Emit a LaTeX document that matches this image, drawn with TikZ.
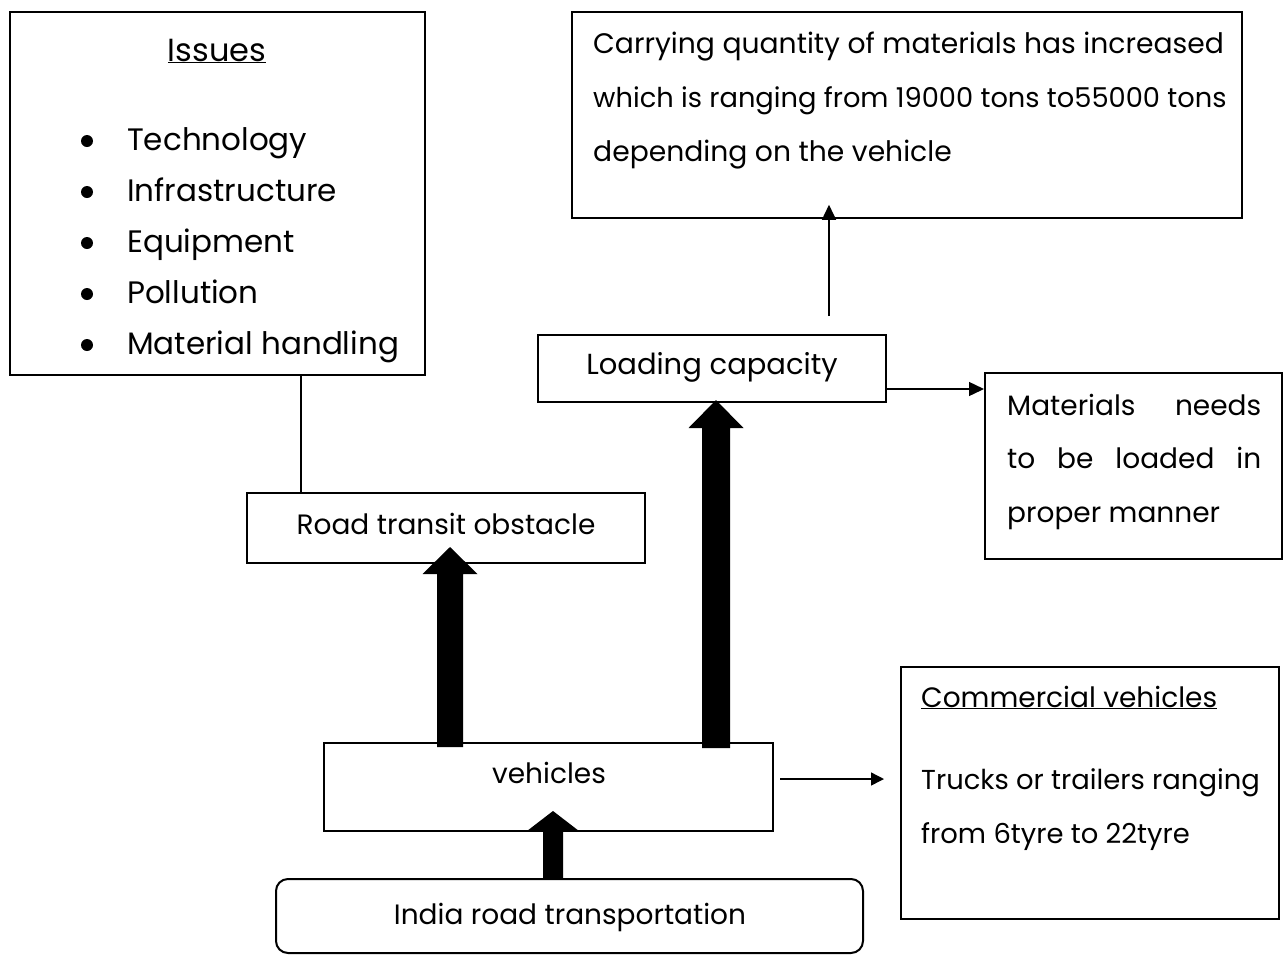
\documentclass[tikz,border=0pt]{standalone}
\usepackage{fontspec}
\setmainfont{Poppins}
\usetikzlibrary{arrows.meta,calc}
\begin{document}
\begin{tikzpicture}[x=1pt,y=-1pt,
  box/.style={draw, line width=2pt, inner sep=0pt, anchor=center},
  txt/.style={inner sep=0pt, anchor=base west, font=\fontsize{28}{32}\selectfont},
  ctxt/.style={inner sep=0pt, anchor=base, font=\fontsize{28}{32}\selectfont},
  thinarrow/.style={line width=1.4pt, -{Triangle[length=15pt,width=14pt]}},
  fat/.style={fill=black}
]
\useasboundingbox (0,0) rectangle (1283,954);

% boxes
\node[box, line width=2.4pt, minimum width=415pt, minimum height=363pt] (issues) at (217.5,193.5) {};
\node[box, line width=1.5pt, minimum width=670pt, minimum height=206pt] (carry) at (907,115) {};
\node[box, minimum width=348pt, minimum height=67pt] (loading) at (712,368.5) {};
\node[box, minimum width=297pt, minimum height=186pt] (mat) at (1133.5,466) {};
\node[box, minimum width=398pt, minimum height=70pt] (road) at (446,528) {};
\node[box, minimum width=449pt, minimum height=88pt] (vehicles) at (548.5,787) {};
\node[box, minimum width=378pt, minimum height=252pt] (comm) at (1090,793) {};
\node[box, rounded corners=12pt, minimum width=587pt, minimum height=74pt] (india) at (569.5,916) {};

% texts
\node[ctxt, font=\fontsize{32}{38}\selectfont] (tIssues) at (217,61) {\underline{Issues}};
\foreach \t [count=\i] in {Technology,Infrastructure,Equipment,Pollution,Material handling}{
  \node[txt, font=\fontsize{31}{36}\selectfont] (tI\i) at (127,150+51*\i-51) {\t};
  \fill (87,141+51*\i-51) circle (6pt);
}
\node[txt, font=\fontsize{28.2}{32}\selectfont] (tC1) at (593,53) {Carrying quantity of materials has increased};
\node[txt, font=\fontsize{27.3}{32}\selectfont] (tC2) at (593,107) {which is ranging from 19000 tons to55000 tons};
\node[txt, font=\fontsize{28.2}{32}\selectfont] (tC3) at (593,161) {depending on the vehicle};
\node[ctxt, font=\fontsize{29}{32}\selectfont] (tLoad) at (712,374) {Loading capacity};
\node[txt] (tM1) at (1007,415) {\makebox[254pt][s]{Materials\hfill needs}};
\node[txt] (tM2) at (1007,468) {\makebox[254pt][s]{to\hfill be\hfill loaded\hfill in}};
\node[txt] (tM3) at (1007,522) {proper manner};
\node[ctxt] (tRoad) at (446,534) {Road transit obstacle};
\node[ctxt] (tVeh) at (549,783) {vehicles};
\node[ctxt] (tIndia) at (570,924) {India road transportation};
\node[txt] (tCo1) at (921,707) {\underline{Commercial vehicles}};
\node[txt, font=\fontsize{27.4}{32}\selectfont] (tCo2) at (921,789) {Trucks or trailers ranging};
\node[txt, font=\fontsize{27.4}{32}\selectfont] (tCo3) at (921,843) {from 6tyre to 22tyre};

% plain connector issues -> road
\draw[line width=1.4pt] (301,0 |- issues.south) -- (301,0 |- road.north);

% thin arrows
\coordinate (la) at (829,0 |- loading.north);
\coordinate (lb) at (829,0 |- carry.south);
\draw[thinarrow] ([yshift=18pt]la) -- ([yshift=14pt]lb);
\coordinate (ma) at (loading.east |- 0,389);
\coordinate (mb) at (mat.west |- 0,389);
\draw[thinarrow] ([xshift=-2pt]ma) -- (mb);
\coordinate (va) at (vehicles.east |- 0,779);
\coordinate (vb) at (comm.west |- 0,779);
\draw[thinarrow, -{Triangle[length=13pt,width=13pt]}] ([xshift=6pt]va) -- ([xshift=-16pt]vb);

% fat arrows
\coordinate (f1s) at (553,0 |- india.north);
\coordinate (f1e) at (553,0 |- vehicles.south);
\fill ([xshift=-10pt]f1s) -- ([xshift=-10pt,yshift=1pt]f1e) -- ([xshift=-26pt,yshift=1pt]f1e)
  -- ([yshift=21pt]f1e) -- ([xshift=26pt,yshift=1pt]f1e) -- ([xshift=10pt,yshift=1pt]f1e)
  -- ([xshift=10pt]f1s) -- cycle;
\coordinate (f2s) at (450,0 |- vehicles.north);
\coordinate (f2e) at (450,0 |- road.south);
\fill ([xshift=-13pt,yshift=-5pt]f2s) -- ([xshift=-13pt,yshift=-10pt]f2e) -- ([xshift=-27.5pt,yshift=-10pt]f2e)
  -- ([yshift=17pt]f2e) -- ([xshift=27.5pt,yshift=-10pt]f2e) -- ([xshift=13pt,yshift=-10pt]f2e)
  -- ([xshift=13pt,yshift=-5pt]f2s) -- cycle;
\coordinate (f3s) at (716,0 |- vehicles.north);
\coordinate (f3e) at (716,0 |- loading.south);
\fill ([xshift=-14pt,yshift=-6pt]f3s) -- ([xshift=-14pt,yshift=-25pt]f3e) -- ([xshift=-27.5pt,yshift=-25pt]f3e)
  -- ([yshift=3pt]f3e) -- ([xshift=27.5pt,yshift=-25pt]f3e) -- ([xshift=14pt,yshift=-25pt]f3e)
  -- ([xshift=14pt,yshift=-6pt]f3s) -- cycle;
\end{tikzpicture}
\end{document}
